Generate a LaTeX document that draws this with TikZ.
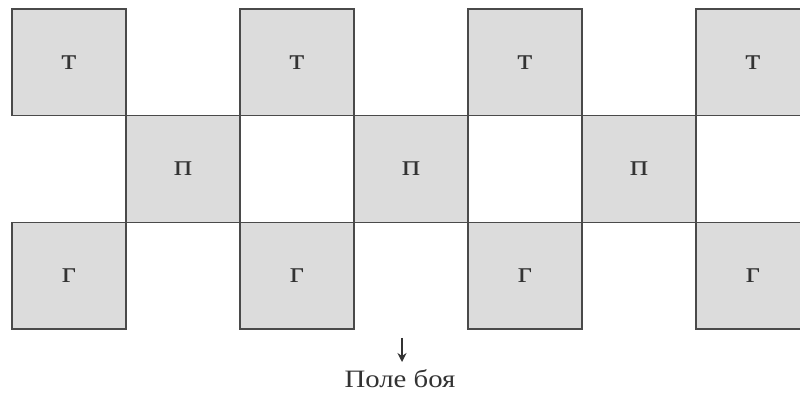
\documentclass[tikz,border=0pt]{standalone}
\usepackage{fontspec}
\setmainfont{Liberation Serif}[FakeStretch=1.15]
\usetikzlibrary{arrows.meta}
\definecolor{sqfill}{HTML}{DCDCDC}
\definecolor{sqline}{HTML}{4A4A4A}
\definecolor{txt}{HTML}{333333}
\tikzset{
  sq/.style={draw=sqline, fill=sqfill, line width=1.3pt, minimum width=114pt, minimum height=106.7pt, inner sep=0pt, text=txt, font=\fontsize{30}{30}\selectfont},
  lbl/.style={text=txt, font=\fontsize{25}{25}\selectfont, inner sep=0pt},
  arr/.style={draw=txt, line width=1.7pt, -{Stealth[length=9pt,width=9pt,inset=3pt]}}
}
\begin{document}
\begin{tikzpicture}[x=1pt,y=1pt]
\useasboundingbox (0,0) rectangle (800,396);
\fill[white] (0,0) rectangle (800,396);
\clip (0,0) rectangle (800,396);
% top row
\node[sq] (t1) at (69,333.7) {т};
\node[sq] (t2) at (297,333.7) {т};
\node[sq] (t3) at (525,333.7) {т};
\node[sq] (t4) at (753,333.7) {т};
% middle row
\node[sq] (p1) at (183,227) {п};
\node[sq] (p2) at (411,227) {п};
\node[sq] (p3) at (639,227) {п};
% bottom row
\node[sq] (g1) at (69,120.3) {г};
\node[sq] (g2) at (297,120.3) {г};
\node[sq] (g3) at (525,120.3) {г};
\node[sq] (g4) at (753,120.3) {г};
% label and arrow
\node[lbl, anchor=base] (field) at (400,9) {Поле боя};
\coordinate (arrtop) at (402,58);
\coordinate (arrtip) at (402,34);
\draw[arr] (arrtop) -- (arrtip);
\end{tikzpicture}
\end{document}
